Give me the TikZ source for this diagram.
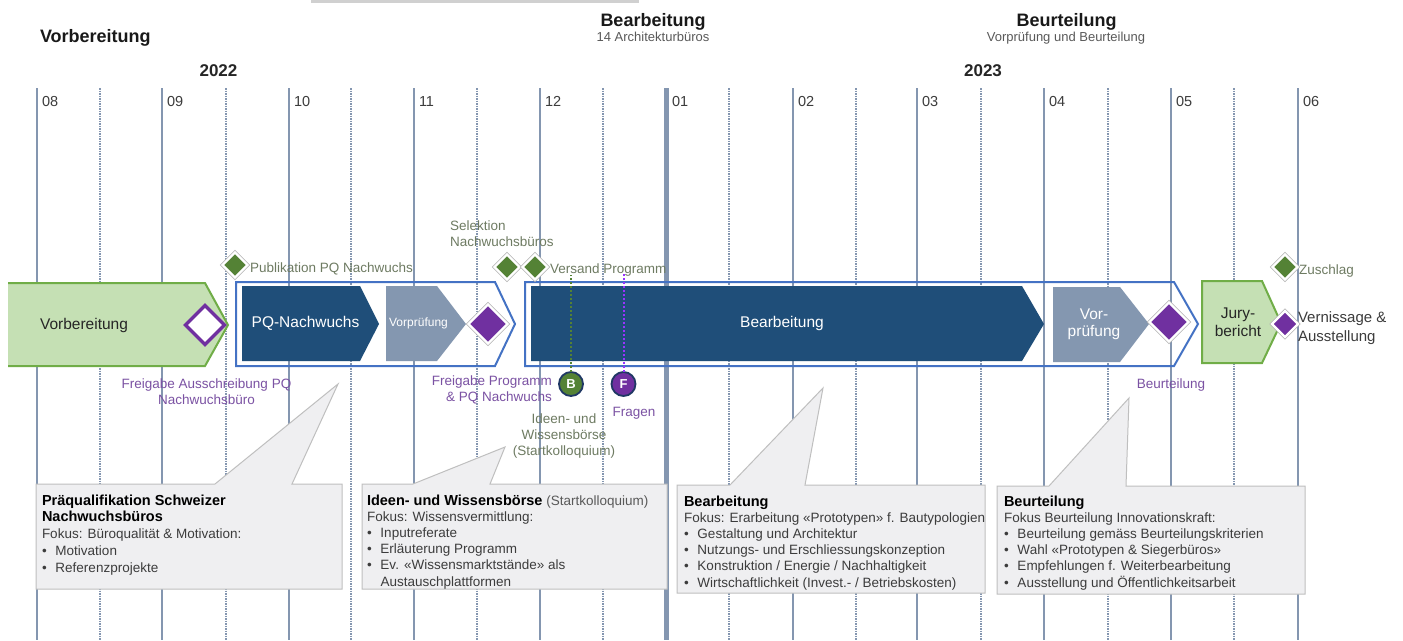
\documentclass[tikz,border=0pt]{standalone}
\usepackage{fontspec}
\setmainfont{Liberation Sans}
\usetikzlibrary{shapes.geometric}
\definecolor{gridc}{HTML}{8496B0}
\definecolor{lgreen}{HTML}{C5E0B4}
\definecolor{bgreen}{HTML}{70AD47}
\definecolor{dblue}{HTML}{1F4E79}
\definecolor{gblue}{HTML}{8497B0}
\definecolor{oblue}{HTML}{4472C4}
\definecolor{purp}{HTML}{7030A0}
\definecolor{dgreen}{HTML}{548235}
\definecolor{callfill}{HTML}{EFEFF1}
\definecolor{callline}{HTML}{BFBFBF}
\definecolor{lblgreen}{HTML}{6E7B62}
\definecolor{lblpurp}{HTML}{7B52A3}
\definecolor{txtdark}{HTML}{3C3C3C}
\definecolor{navy}{HTML}{203864}
\definecolor{brightpurp}{HTML}{9933FF}
\definecolor{topbar}{HTML}{D0D0D0}
\newcommand\fsz[2]{\fontsize{#1}{#2}\selectfont}
\newcommand\bul{\makebox[13.5pt][l]{\textbullet}}
\newcommand\titlef{\bfseries\fsz{14.5}{16.5}\color{black}}
\begin{document}
\begin{tikzpicture}[x=1pt,y=-1pt,
  every node/.style={inner sep=0pt, outer sep=0pt},
  gsolid/.style={draw=gridc, line width=2pt},
  gdash/.style={draw=gridc, line width=1.4pt, dash pattern=on 1.5pt off 1pt},
  month/.style={anchor=base west, font=\fsz{14.5}{17}, text=txtdark},
  year/.style={anchor=base, font=\bfseries\fsz{17}{20}, text=black!85},
  phasehead/.style={font=\bfseries\fsz{18}{20}, text=black!90},
  phasesub/.style={anchor=base, font=\fsz{13}{15}, text=black!65},
  greenshape/.style={fill=lgreen},
  greenborder/.style={draw=bgreen, line width=2pt},
  darkshape/.style={fill=dblue},
  grayshape/.style={fill=gblue},
  outlinebox/.style={draw=oblue, line width=2pt},
  shapetxt/.style={font=\fsz{15.5}{18.5}, align=center},
  gdia/.style={diamond, aspect=1, minimum width=25pt, minimum height=25pt, fill=dgreen, draw=white, line width=2.2pt, preaction={draw=black!30, line width=3.8pt}},
  pdia/.style={diamond, aspect=1, minimum width=39pt, minimum height=39pt, fill=purp, draw=white, line width=2.2pt, preaction={draw=black!30, line width=3.8pt}},
  spdia/.style={diamond, aspect=1, minimum width=26pt, minimum height=26pt, fill=purp, draw=white, line width=2.2pt, preaction={draw=black!30, line width=3.8pt}},
  hdia/.style={diamond, aspect=1, minimum width=39pt, minimum height=39pt, fill=white, draw=purp, line width=3.5pt},
  circ/.style={circle, minimum size=24pt, draw=navy, line width=1.8pt, text=white, font=\bfseries\fsz{13}{15}},
  lblg/.style={font=\fsz{13.5}{16}, text=lblgreen},
  lblp/.style={font=\fsz{13.5}{16}, text=lblpurp},
  callout/.style={fill=callfill, draw=callline, line width=1pt},
  calltxt/.style={anchor=north west, align=left, text=txtdark}
]
\useasboundingbox (0,0) rectangle (1403,640);
\fill[white] (0,0) rectangle (1403,640);
% top bar
\fill[topbar] (311,0) rectangle (639,3);

% grid
\foreach \x in {37,162,289,414,540,793,917,1044,1171,1298}
  \draw[gsolid] (\x,88) -- (\x,640);
\draw[gsolid, line width=5pt] (666,88) -- (666,640);
\foreach \x in {100,226,351,477,603,729,856,981,1108,1234}
  \draw[gdash] (\x,88) -- (\x,640);

% month labels
\foreach \x/\m in {37/08,162/09,289/10,414/11,540/12,793/02,917/03,1044/04,1171/05,1298/06}
  \node[month] (mon\m) at (\x+5,106) {\m};
\node[month] (mon01) at (672,106) {01};

% years
\node[year] (y2022) at (218.5,76) {2022};
\node[year] (y2023) at (983,76) {2023};

% phase headers
\node[phasehead, anchor=base west] (hvor) at (40,42) {Vorbereitung};
\node[phasehead, anchor=base] (hbea) at (653,26.5) {Bearbeitung};
\node[phasesub] (hbeasub) at (653,41) {14 Architekturbüros};
\node[phasehead, anchor=base] (hbeu) at (1066.5,26.5) {Beurteilung};
\node[phasesub] (hbeusub) at (1066,41) {Vorprüfung und Beurteilung};

% Vorbereitung shape
\fill[greenshape] (8,283) -- (205,283) -- (228,325) -- (205,366) -- (8,366) -- cycle;
\draw[greenborder] (8,283) -- (205,283) -- (228,325) -- (205,366) -- (8,366);
\node[shapetxt, text=black!85] (svor) at (84,325) {Vorbereitung};

% PQ group
\draw[outlinebox] (236,282) -- (495,282) -- (515,324) -- (495,366) -- (236,366) -- cycle;
\fill[darkshape] (242,286) -- (360,286) -- (379,324) -- (360,361) -- (242,361) -- cycle;
\node[shapetxt, text=white] (spq) at (305.5,323) {PQ-Nachwuchs};
\fill[grayshape] (386,286) -- (437,286) -- (466,324) -- (437,361) -- (386,361) -- cycle;
\node[font=\fsz{12}{14}, text=white] (svp1) at (418.5,323) {Vorprüfung};

% Bearbeitung group
\draw[outlinebox] (525,282) -- (1174,282) -- (1198,324) -- (1174,366) -- (525,366) -- cycle;
\fill[darkshape] (531,286) -- (1022,286) -- (1044,324) -- (1022,361) -- (531,361) -- cycle;
\node[shapetxt, text=white] (sbea) at (782,323) {Bearbeitung};
\fill[grayshape] (1053,287) -- (1120,287) -- (1149,324) -- (1120,362) -- (1053,362) -- cycle;
\node[shapetxt, text=white, font=\fsz{15.5}{17}] (svp2) at (1094,324) {Vor-\\prüfung};

% Jury
\fill[greenshape] (1202,281) -- (1262,281) -- (1281,323) -- (1262,363) -- (1202,363) -- cycle;
\draw[greenborder] (1202,281) -- (1262,281) -- (1281,323) -- (1262,363) -- (1202,363) -- cycle;
\node[shapetxt, text=black!85, font=\fsz{15.5}{18}] (sjury) at (1238,322) {Jury-\\bericht};

% diamonds
\node[hdia] (dfa) at (205,325) {};
\node[pdia] (dfp) at (488,324) {};
\node[pdia] (dbeu) at (1169,322) {};
\node[spdia] (dvern) at (1285,324) {};
\node[gdia] (dpub) at (235,265) {};
\node[gdia] (dsel) at (507,267) {};
\node[gdia] (dver) at (535,267) {};
\node[gdia] (dzu) at (1285,267) {};

% B / F markers
\coordinate (vB) at (571,275);
\coordinate (vF) at (623.5,273);
\node[circ, fill=dgreen] (B) at (571,384) {B};
\node[circ, fill=purp] (F) at (623.5,384) {F};
\draw[dgreen, line width=2pt, dash pattern=on 2pt off 2pt] (B) -- (vB);
\draw[brightpurp, line width=2pt, dash pattern=on 2pt off 2pt] (F) -- (vF);

% labels
\node[lblg, anchor=base west] (lpub) at (250,272) {Publikation PQ Nachwuchs};
\node[lblg, anchor=north west, align=left] (lsel) at (450,220.3) {Selektion\\Nachwuchsbüros};
\node[lblg, anchor=base west] (lver) at (550,273) {Versand Programm};
\node[lblg, anchor=base west] (lzu) at (1299,274) {Zuschlag};
\node[lblp, anchor=north, align=center] (lfa) at (206.5,378.3) {Freigabe Ausschreibung PQ\\Nachwuchsbüro};
\node[lblp, anchor=north east, align=right] (lfp) at (552,375.3) {Freigabe Programm\\\& PQ Nachwuchs};
\node[lblg, anchor=north, align=center] (lid) at (564,413.3) {Ideen- und\\Wissensbörse\\(Startkolloquium)};
\node[lblp, anchor=base] (lfr) at (634,416) {Fragen};
\node[lblp, anchor=base] (lbe) at (1171,388) {Beurteilung};
\node[anchor=north west, align=left, font=\fsz{15}{19}, text=txtdark] (lvern) at (1298,311.5) {Vernissage \&\\Ausstellung};

% callouts
\draw[callout] (36,484) -- (215,484) -- (338,384) -- (292,484) -- (342,484) -- (342,589) -- (36,589) -- cycle;
\draw[callout] (362,484) -- (413,484) -- (505,447) -- (490,484) -- (667,484) -- (667,589) -- (362,589) -- cycle;
\draw[callout] (677,485) -- (730,485) -- (823,388) -- (805,485) -- (985,485) -- (985,593) -- (677,593) -- cycle;
\draw[callout] (997,486) -- (1049,486) -- (1129,398) -- (1126,486) -- (1305,486) -- (1305,594) -- (997,594) -- cycle;

\node[calltxt, font=\fsz{13.5}{16.8}] (c1) at (42,494.5)
 {{\titlef Präqualifikation Schweizer}\\{\titlef Nachwuchsbüros}\\Fokus: Büroqualität \& Motivation:\\\bul Motivation\\\bul Referenzprojekte};
\node[calltxt, font=\fsz{13.5}{16.2}] (c2) at (367,494.5)
 {{\titlef Ideen- und Wissensbörse} {\color{black!65}(Startkolloquium)}\\Fokus: Wissensvermittlung:\\\bul Inputreferate\\\bul Erläuterung Programm\\\bul Ev. «Wissensmarktstände» als\\\hspace*{13.5pt}Austauschplattformen};
\node[calltxt, font=\fsz{13.5}{16.2}] (c3) at (684,495.5)
 {{\titlef Bearbeitung}\\Fokus: Erarbeitung «Prototypen» f. Bautypologien\\\bul Gestaltung und Architektur\\\bul Nutzungs- und Erschliessungskonzeption\\\bul Konstruktion / Energie / Nachhaltigkeit\\\bul Wirtschaftlichkeit (Invest.- / Betriebskosten)};
\node[calltxt, font=\fsz{13.5}{16.2}] (c4) at (1004,495.5)
 {{\titlef Beurteilung}\\Fokus Beurteilung Innovationskraft:\\\bul Beurteilung gemäss Beurteilungskriterien\\\bul Wahl «Prototypen \& Siegerbüros»\\\bul Empfehlungen f. Weiterbearbeitung\\\bul Ausstellung und Öffentlichkeitsarbeit};
\end{tikzpicture}
\end{document}
